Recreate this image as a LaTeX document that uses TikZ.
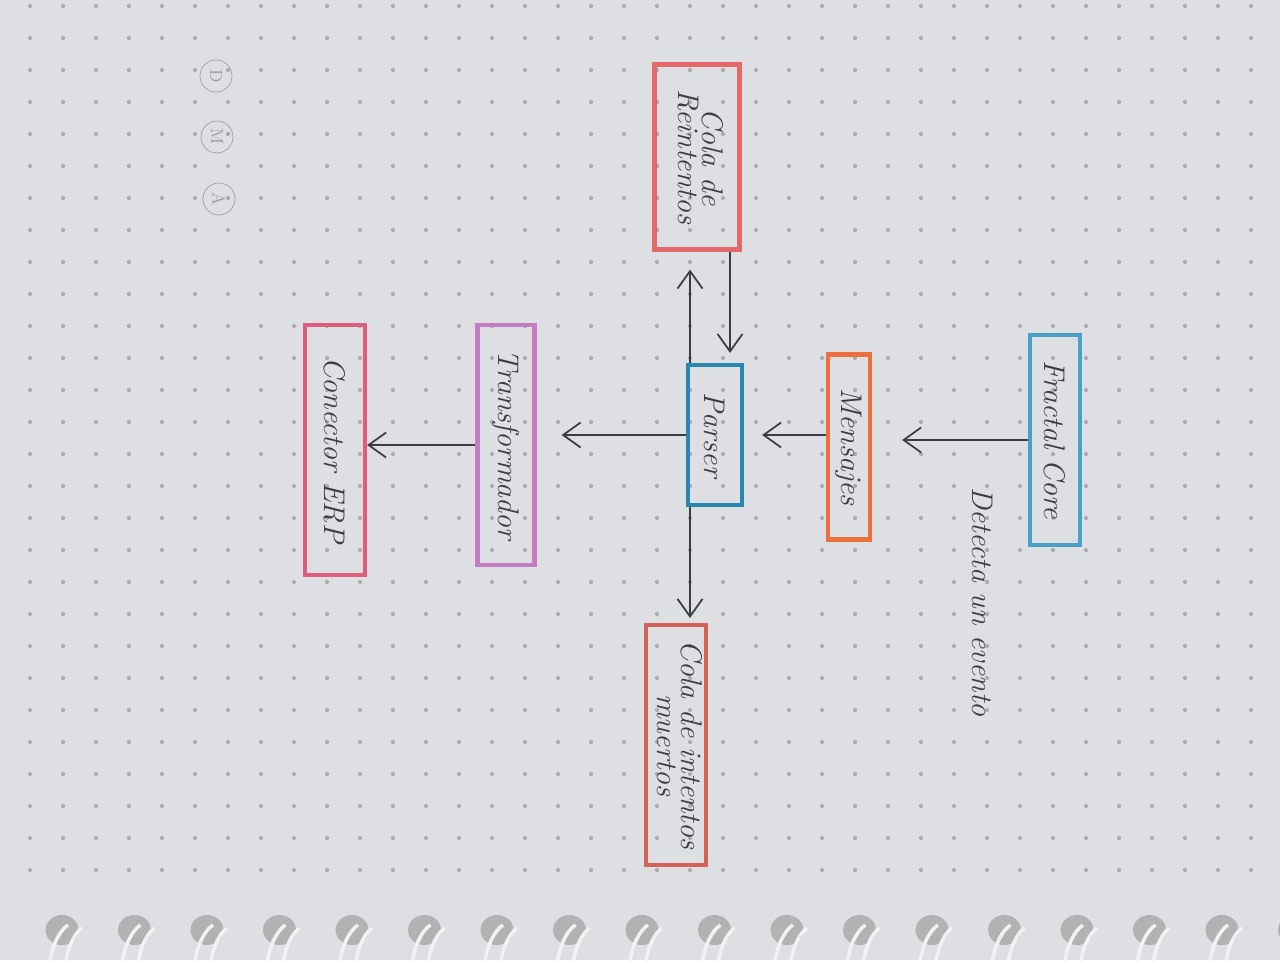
\documentclass[tikz,border=0pt]{standalone}
\usepackage{xcolor}
\usepackage{graphicx}
\usepackage{tikz}
\usetikzlibrary{arrows.meta,calc,positioning}
\definecolor{papel}{RGB}{222,223,227}
\definecolor{tinta}{RGB}{58,60,70}
\definecolor{azul}{RGB}{75,160,200}
\definecolor{azulosc}{RGB}{40,135,175}
\definecolor{naranja}{RGB}{236,112,62}
\definecolor{rojo}{RGB}{228,104,104}
\definecolor{rojoosc}{RGB}{212,98,88}
\definecolor{lila}{RGB}{196,124,196}
\definecolor{rosa}{RGB}{222,92,124}
\tikzset{
  caja/.style={draw,line width=2.4pt,inner sep=0pt,text=tinta,
    font=\fontsize{17}{19}\selectfont\itshape},
  flecha/.style={-{Straight Barb[length=3.5mm,width=5mm]},line width=1pt,tinta},
  etiqueta/.style={text=tinta,font=\fontsize{17}{19}\selectfont\itshape},
  circulo/.style={circle,draw=gray!75,thin,minimum size=0.64cm,inner sep=0pt,
    text=gray!75,font=\normalsize},
  punto/.style={gray!65}
}
\newcommand{\girar}[1]{\rotatebox{-90}{#1}}
\newcommand{\dos}[2]{\rotatebox{-90}{\begin{tabular}{@{}c@{}}#1\\[-5pt]#2\end{tabular}}}

\begin{document}
\begin{tikzpicture}[x=0.02cm,y=-0.02cm]
\useasboundingbox (0,0) rectangle (1280,960);
\fill[papel] (0,0) rectangle (1280,960);
% cuadricula de puntos
\foreach \i in {0,...,37}
  \foreach \j in {0,...,27}
    \fill[punto] (30+33*\i,6+32*\j) circle (1.2pt);
% espiral
\foreach \k in {0,...,17}{
  \fill[gray!60] (62+72.5*\k,930) ellipse (0.33cm and 0.3cm);
  \draw[white!90!gray,line width=2pt] (50+72.5*\k,962) .. controls (52+72.5*\k,945) and (60+72.5*\k,930) .. (68+72.5*\k,925);
  \draw[white!90!gray,line width=2pt] (66+72.5*\k,962) .. controls (68+72.5*\k,945) and (76+72.5*\k,932) .. (82+72.5*\k,928);
}
% D M A
\node[circulo] (d) at (216,76) {\girar{D}};
\node[circulo] (m) at (217,137) {\girar{M}};
\node[circulo] (a) at (219,199) {\girar{A}};
% cajas
\node[caja,draw=azul,minimum width=1cm,minimum height=4.2cm] (fractal) at (1055,440) {\girar{Fractal Core}};
\node[caja,draw=naranja,minimum width=0.84cm,minimum height=3.7cm] (mensajes) at (849,447) {\girar{Mensajes}};
\node[caja,draw=azulosc,minimum width=1.08cm,minimum height=2.8cm] (parser) at (715,435) {\girar{Parser}};
\node[caja,draw=rojo,minimum width=1.7cm,minimum height=3.7cm] (reintentos) at (697,157) {\dos{Cola de}{Reintentos}};
\node[caja,draw=rojoosc,minimum width=1.2cm,minimum height=4.8cm] (muertos) at (676,745) {\dos{Cola de intentos}{muertos}};
\node[caja,draw=lila,minimum width=1.14cm,minimum height=4.8cm] (transform) at (506,445) {\girar{Transformador}};
\node[caja,draw=rosa,minimum width=1.2cm,minimum height=5cm] (erp) at (335,450) {\girar{Conector ERP}};
\node[etiqueta] (detecta) at (983,602) {\girar{Detecta un evento}};
% conexiones
\draw[flecha,shorten >=0.6cm] (fractal.west) -- (fractal.west -| mensajes.east);
\draw[flecha,shorten >=0.36cm] (mensajes.west |- parser.east) -- (parser.east);
\coordinate (pizq) at ([xshift=-0.5cm]parser.north);
\coordinate (pder) at ([xshift=0.3cm]parser.north);
\coordinate (pinf) at ([xshift=-0.5cm]parser.south);
\draw[flecha,shorten >=0.36cm] (pizq) -- (pizq |- reintentos.south);
\draw[flecha,shorten >=0.2cm] (pder |- reintentos.south) -- (pder);
\draw[flecha,shorten >=0.1cm] (pinf) -- (pinf |- muertos.north);
\draw[flecha,shorten >=0.5cm] (parser.west) -- (parser.west -| transform.east);
\draw[flecha] (transform.west) -- (transform.west -| erp.east);
\end{tikzpicture}
\end{document}
